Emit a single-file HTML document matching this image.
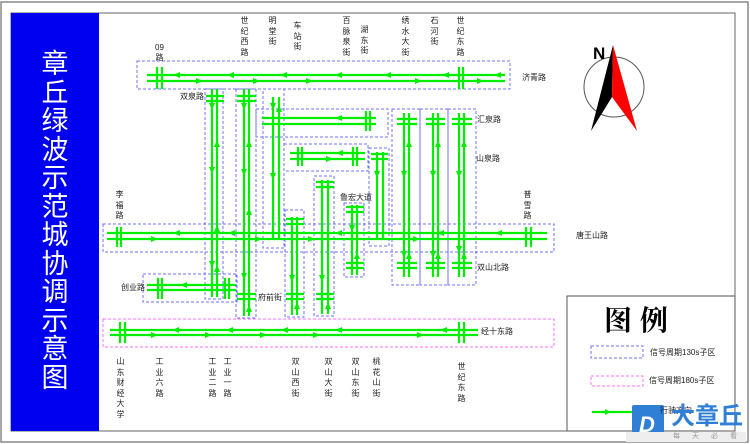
<!DOCTYPE html>
<html><head><meta charset="utf-8"><style>
html,body{margin:0;padding:0;background:#fff;}
#w{position:relative;width:750px;height:444px;overflow:hidden;font-family:"Liberation Sans","Noto Sans CJK SC",sans-serif;}
.l{position:absolute;font-size:8px;color:#222;line-height:10px;white-space:nowrap;}
.v{position:absolute;font-size:8px;color:#222;width:9px;line-height:10.5px;text-align:center;word-break:break-all;}
</style></head><body><div id="w">
<svg width="750" height="444" style="position:absolute;left:0;top:0">
<rect x="1" y="2" width="747" height="440" fill="none" stroke="#888" stroke-width="1.5"/>
<rect x="11" y="13" width="724" height="418" fill="none" stroke="#666" stroke-width="1"/>
<rect x="11" y="13" width="88" height="418" fill="#0000f0"/>
<rect x="567" y="296" width="168" height="135" fill="#fff" stroke="#555" stroke-width="1"/>
<g fill="none" stroke="#7070ff" stroke-width="1" stroke-dasharray="3,2">
<rect x="137" y="61" width="373" height="28"/>
<rect x="103" y="224" width="451" height="28"/>
<rect x="256" y="109" width="132" height="28"/>
<rect x="284" y="144" width="84" height="27"/>
<rect x="143" y="274" width="94" height="28"/>
<rect x="205" y="89" width="18" height="210"/>
<rect x="236" y="89" width="20" height="229"/>
<rect x="263" y="89" width="21" height="159"/>
<rect x="369" y="148" width="20" height="98"/>
<rect x="314" y="176" width="20" height="140"/>
<rect x="285" y="210" width="19" height="107"/>
<rect x="344" y="203" width="20" height="74"/>
<rect x="392" y="109" width="28" height="176"/>
<rect x="420" y="109" width="28" height="176"/>
<rect x="448" y="109" width="28" height="176"/>
<rect x="591" y="346" width="52" height="12"/>
</g>
<g fill="none" stroke="#ff70ff" stroke-width="1" stroke-dasharray="3,2">
<rect x="103" y="319" width="451" height="28"/>
<rect x="591" y="376" width="52" height="10"/>
</g>
<g stroke="#00ee00" stroke-width="2.2">
<line x1="147" y1="75" x2="505" y2="75"/><line x1="147" y1="81" x2="505" y2="81"/>
<line x1="157" y1="67" x2="157" y2="89"/><line x1="162" y1="67" x2="162" y2="89"/>
<line x1="459" y1="67" x2="459" y2="89"/><line x1="463" y1="67" x2="463" y2="89"/>
<line x1="107" y1="233" x2="547" y2="233"/><line x1="107" y1="239" x2="547" y2="239"/>
<line x1="117" y1="227" x2="117" y2="247"/><line x1="121" y1="227" x2="121" y2="247"/>
<line x1="526" y1="227" x2="526" y2="247"/><line x1="531" y1="227" x2="531" y2="247"/>
<line x1="110" y1="330" x2="478" y2="330"/><line x1="110" y1="335" x2="478" y2="335"/>
<line x1="120" y1="322" x2="120" y2="343"/><line x1="125" y1="322" x2="125" y2="343"/>
<line x1="459" y1="322" x2="459" y2="343"/><line x1="464" y1="322" x2="464" y2="343"/>
<line x1="262" y1="118" x2="376" y2="118"/><line x1="262" y1="124" x2="376" y2="124"/>
<line x1="366" y1="111" x2="366" y2="131"/><line x1="370" y1="111" x2="370" y2="131"/>
<line x1="290" y1="153" x2="365" y2="153"/><line x1="290" y1="159" x2="365" y2="159"/>
<line x1="298" y1="147" x2="298" y2="166"/><line x1="302" y1="147" x2="302" y2="166"/>
<line x1="353" y1="147" x2="353" y2="166"/><line x1="357" y1="147" x2="357" y2="166"/>
<line x1="147" y1="285" x2="236" y2="285"/><line x1="147" y1="290" x2="236" y2="290"/>
<line x1="158" y1="278" x2="158" y2="299"/><line x1="162" y1="278" x2="162" y2="299"/>
<line x1="225" y1="278" x2="225" y2="299"/><line x1="229" y1="278" x2="229" y2="299"/>
<line x1="212" y1="89" x2="212" y2="297"/><line x1="217" y1="89" x2="217" y2="297"/>
<line x1="206" y1="96" x2="224" y2="96"/><line x1="206" y1="101" x2="224" y2="101"/>
<line x1="244" y1="89" x2="244" y2="316"/><line x1="249" y1="89" x2="249" y2="316"/>
<line x1="237" y1="96" x2="256" y2="96"/><line x1="237" y1="101" x2="256" y2="101"/>
<line x1="237" y1="294" x2="256" y2="294"/><line x1="237" y1="299" x2="256" y2="299"/>
<line x1="273" y1="97" x2="273" y2="238"/><line x1="279" y1="97" x2="279" y2="238"/>
<line x1="377" y1="152" x2="377" y2="238"/><line x1="383" y1="152" x2="383" y2="238"/>
<line x1="371" y1="154" x2="388" y2="154"/><line x1="371" y1="159" x2="388" y2="159"/>
<line x1="322" y1="180" x2="322" y2="314"/><line x1="328" y1="180" x2="328" y2="314"/>
<line x1="316" y1="182" x2="334" y2="182"/><line x1="316" y1="187" x2="334" y2="187"/>
<line x1="316" y1="294" x2="334" y2="294"/><line x1="316" y1="299" x2="334" y2="299"/>
<line x1="292" y1="217" x2="292" y2="315"/><line x1="297" y1="217" x2="297" y2="315"/>
<line x1="286" y1="219" x2="304" y2="219"/><line x1="286" y1="224" x2="304" y2="224"/>
<line x1="286" y1="294" x2="304" y2="294"/><line x1="286" y1="299" x2="304" y2="299"/>
<line x1="352" y1="205" x2="352" y2="275"/><line x1="357" y1="205" x2="357" y2="275"/>
<line x1="346" y1="207" x2="364" y2="207"/><line x1="346" y1="212" x2="364" y2="212"/>
<line x1="346" y1="263" x2="364" y2="263"/><line x1="346" y1="268" x2="364" y2="268"/>
<line x1="404" y1="113" x2="404" y2="277"/><line x1="409" y1="113" x2="409" y2="277"/>
<line x1="397" y1="119" x2="417" y2="119"/><line x1="397" y1="124" x2="417" y2="124"/>
<line x1="397" y1="263" x2="417" y2="263"/><line x1="397" y1="268" x2="417" y2="268"/>
<line x1="433" y1="113" x2="433" y2="277"/><line x1="438" y1="113" x2="438" y2="277"/>
<line x1="426" y1="119" x2="445" y2="119"/><line x1="426" y1="124" x2="445" y2="124"/>
<line x1="426" y1="263" x2="445" y2="263"/><line x1="426" y1="268" x2="445" y2="268"/>
<line x1="459" y1="113" x2="459" y2="277"/><line x1="464" y1="113" x2="464" y2="277"/>
<line x1="452" y1="119" x2="472" y2="119"/><line x1="452" y1="124" x2="472" y2="124"/>
<line x1="452" y1="263" x2="472" y2="263"/><line x1="452" y1="268" x2="472" y2="268"/>
<line x1="592" y1="412" x2="660" y2="412"/>
</g>
<g fill="#00ee00">
<polygon points="173,75 180,72 180,78"/><polygon points="227,75 234,72 234,78"/><polygon points="280,75 287,72 287,78"/><polygon points="335,75 342,72 342,78"/><polygon points="384,75 391,72 391,78"/><polygon points="442,75 449,72 449,78"/><polygon points="494,75 501,72 501,78"/>
<polygon points="203,81 196,78 196,84"/><polygon points="260,81 253,78 253,84"/><polygon points="313,81 306,78 306,84"/><polygon points="422,81 415,78 415,84"/><polygon points="484,81 477,78 477,84"/>
<polygon points="173,233 180,230 180,236"/><polygon points="228,233 235,230 235,236"/><polygon points="335,233 342,230 342,236"/><polygon points="437,233 444,230 444,236"/><polygon points="495,233 502,230 502,236"/>
<polygon points="158,239 151,236 151,242"/><polygon points="262,239 255,236 255,242"/><polygon points="315,239 308,236 308,242"/><polygon points="420,239 413,236 413,242"/>
<polygon points="172,330 179,327 179,333"/><polygon points="226,330 233,327 233,333"/><polygon points="281,330 288,327 288,333"/><polygon points="335,330 342,327 342,333"/><polygon points="440,330 447,327 447,333"/>
<polygon points="158,335 151,332 151,338"/><polygon points="212,335 205,332 205,338"/><polygon points="267,335 260,332 260,338"/><polygon points="320,335 313,332 313,338"/><polygon points="424,335 417,332 417,338"/>
<polygon points="335,118 342,115 342,121"/>
<polygon points="336,153 343,150 343,156"/><polygon points="333,159 326,156 326,162"/>
<polygon points="180,285 187,282 187,288"/>
<polygon points="212,110 209,103 215,103"/><polygon points="212,174 209,167 215,167"/><polygon points="212,268 209,261 215,261"/>
<polygon points="217,140 214,147 220,147"/><polygon points="217,225 214,232 220,232"/><polygon points="217,265 214,272 220,272"/>
<polygon points="244,110 241,103 247,103"/><polygon points="244,176 241,169 247,169"/><polygon points="244,280 241,273 247,273"/>
<polygon points="249,140 246,147 252,147"/><polygon points="249,208 246,215 252,215"/><polygon points="249,305 246,312 252,312"/>
<polygon points="273,110 270,103 276,103"/><polygon points="273,180 270,173 276,173"/><polygon points="279,105 276,112 282,112"/>
<polygon points="377,178 374,171 380,171"/><polygon points="404,178 401,171 407,171"/><polygon points="404,258 401,251 407,251"/><polygon points="409,140 406,147 412,147"/><polygon points="409,252 406,259 412,259"/>
<polygon points="433,178 430,171 436,171"/><polygon points="433,258 430,251 436,251"/><polygon points="438,140 435,147 441,147"/><polygon points="438,252 435,259 441,259"/>
<polygon points="459,178 456,171 462,171"/><polygon points="459,253 456,246 462,246"/><polygon points="464,140 461,147 467,147"/><polygon points="464,252 461,259 467,259"/>
<polygon points="292,282 289,275 295,275"/><polygon points="297,302 294,309 300,309"/>
<polygon points="322,282 319,275 325,275"/><polygon points="328,302 325,309 331,309"/>
<polygon points="352,232 349,225 355,225"/><polygon points="357,252 354,259 360,259"/>
<polygon points="611,412 605,409 605,415"/>
</g>
<circle cx="614" cy="87" r="30" fill="none" stroke="#555" stroke-width="1"/>
<polygon points="613,45 591,131 612,97" fill="#000"/>
<polygon points="613,45 612,97 637,131" fill="#f00"/>
<text x="593" y="59" font-family="Liberation Sans" font-weight="bold" font-size="17" fill="#000">N</text>
<rect x="632" y="405" width="32" height="34" rx="2" fill="#2f7fd6"/>
<text x="639" y="432" font-family="Liberation Sans" font-weight="bold" font-style="italic" font-size="22" fill="#fff">D</text>
<rect x="626" y="432" width="120" height="10" fill="#eee"/>
</svg>
<div style="position:absolute;left:11px;top:50px;width:88px;text-align:center;color:#fff;font-size:27px;line-height:28.5px;">章<br>丘<br>绿<br>波<br>示<br>范<br>城<br>协<br>调<br>示<br>意<br>图</div>
<div style="position:absolute;left:604px;top:299px;font-size:28px;font-family:'Liberation Serif','Noto Serif CJK SC',serif;font-weight:bold;color:#000;letter-spacing:8px">图例</div>
<div class="l" style="left:650px;top:348px">信号周期130s子区</div>
<div class="l" style="left:649px;top:376px">信号周期180s子区</div>
<div class="l" style="left:660px;top:406px">行驶方向</div>
<div style="position:absolute;left:671px;top:403px;font-size:24px;font-weight:bold;color:#2f7fd6;line-height:28px">大章丘</div>
<div class="l" style="left:673px;top:432px;color:#999;letter-spacing:12px;font-size:7px">每天必看</div>
<div class="l" style="left:522px;top:73px">济青路</div>
<div class="l" style="left:180px;top:92px">双泉路</div>
<div class="l" style="left:477px;top:115px">汇泉路</div>
<div class="l" style="left:476px;top:154px">山泉路</div>
<div class="l" style="left:576px;top:231px">唐王山路</div>
<div class="l" style="left:340px;top:193px">鲁宏大道</div>
<div class="l" style="left:477px;top:263px">双山北路</div>
<div class="l" style="left:121px;top:283px">创业路</div>
<div class="l" style="left:258px;top:293px">府前街</div>
<div class="l" style="left:481px;top:327px">经十东路</div>
<div class="l" style="left:155px;top:43px">09</div>
<div class="v" style="left:155px;top:53px">路</div>
<div class="v" style="left:240px;top:16px">世纪西路</div>
<div class="v" style="left:268px;top:16px">明堂街</div>
<div class="v" style="left:293px;top:21px">车站街</div>
<div class="v" style="left:342px;top:16px">百脉泉街</div>
<div class="v" style="left:360px;top:25px">湖东街</div>
<div class="v" style="left:401px;top:16px">绣水大街</div>
<div class="v" style="left:430px;top:16px">石河街</div>
<div class="v" style="left:456px;top:16px">世纪东路</div>
<div class="v" style="left:115px;top:190px">李福路</div>
<div class="v" style="left:523px;top:190px">普雪路</div>
<div class="v" style="left:116px;top:357px">山东财经大学</div>
<div class="v" style="left:155px;top:357px">工业六路</div>
<div class="v" style="left:208px;top:357px">工业二路</div>
<div class="v" style="left:223px;top:357px">工业一路</div>
<div class="v" style="left:291px;top:357px">双山西街</div>
<div class="v" style="left:324px;top:357px">双山大街</div>
<div class="v" style="left:351px;top:357px">双山东街</div>
<div class="v" style="left:372px;top:357px">桃花山街</div>
<div class="v" style="left:457px;top:362px">世纪东路</div>
</div></body></html>
